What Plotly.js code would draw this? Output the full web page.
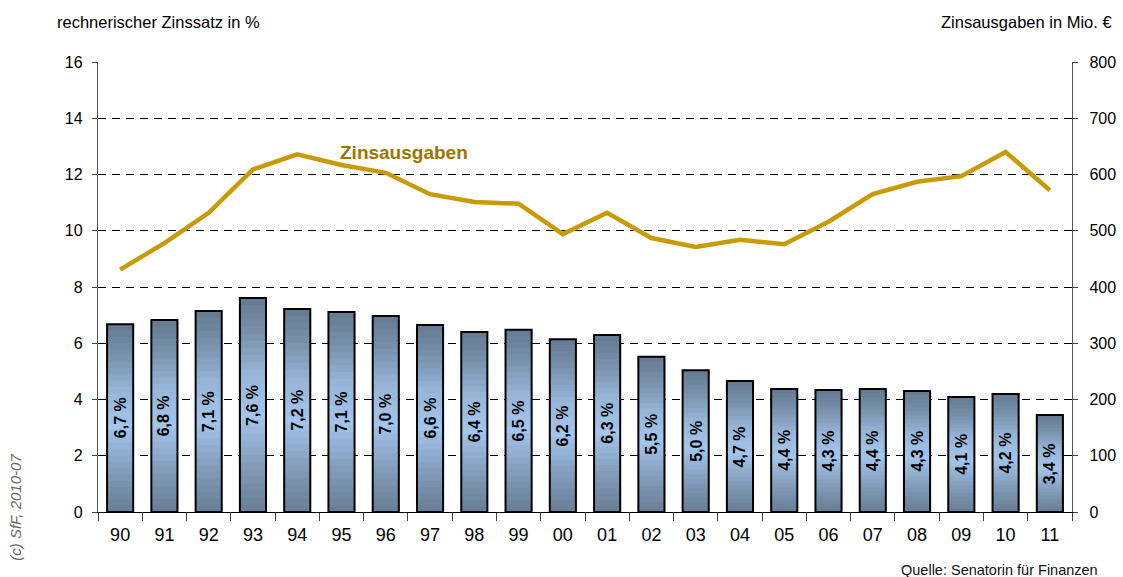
<!DOCTYPE html>
<html>
<head>
<meta charset="utf-8">
<script src="https://cdn.plot.ly/plotly-3.0.1.min.js"></script>
<style>html,body{margin:0;padding:0;background:#fff;}#chart{width:1123px;height:577px;}</style>
</head>
<body>
<div id="chart"></div>
<script>
// ---- data ----
var years = ['90','91','92','93','94','95','96','97','98','99','00','01','02','03','04','05','06','07','08','09','10','11'];
var zinssatz = [6.68,6.83,7.15,7.61,7.22,7.11,6.97,6.65,6.40,6.48,6.14,6.29,5.52,5.04,4.66,4.37,4.34,4.37,4.30,4.09,4.20,3.45];
var zinssatzLabels = ['6,7 %','6,8 %','7,1 %','7,6 %','7,2 %','7,1 %','7,0 %','6,6 %','6,4 %','6,5 %','6,2 %','6,3 %','5,5 %','5,0 %','4,7 %','4,4 %','4,3 %','4,4 %','4,3 %','4,1 %','4,2 %','3,4 %'];
var zinsausgaben = [431,478,532,609,636,617,603,565,551,548,494,532,487,471,484,476,516,565,587,597,640,572];

// ---- styling helpers ----
var FONT = 'Liberation Sans, Arial, sans-serif';
var gradStops = [ // fraction from bottom -> colour
  [0.00, [104,125,149]],
  [0.20, [128,153,182]],
  [0.45, [163,197,235]],
  [0.65, [150,180,214]],
  [0.85, [118,142,168]],
  [1.00, [101,122,146]]
];
function gradColor(f){
  for (var i=1;i<gradStops.length;i++){
    if (f <= gradStops[i][0]){
      var a=gradStops[i-1], b=gradStops[i];
      var t=(f-a[0])/(b[0]-a[0]);
      var c=a[1].map(function(v,j){return Math.round(v+(b[1][j]-v)*t);});
      return 'rgb('+c.join(',')+')';
    }
  }
  return 'rgb('+gradStops[gradStops.length-1][1].join(',')+')';
}

var BARW = 0.59;
var N = 30;
var traces = [];
// gradient bands (overlay): each band trace is the bar scaled to k/N of its height
for (var k=N;k>=1;k--){
  traces.push({
    type:'bar', x: years,
    y: zinssatz.map(function(v){return v*k/N;}),
    width: BARW,
    marker:{color: gradColor((k-0.5)/N), line:{width:0}},
    hoverinfo:'skip', showlegend:false
  });
}
// outline
traces.push({
  type:'bar', x: years, y: zinssatz, width: BARW,
  marker:{color:'rgba(0,0,0,0)', line:{color:'#000', width:2}},
  hoverinfo:'skip', showlegend:false
});
// line
traces.push({
  type:'scatter', mode:'lines', x: years, y: zinsausgaben, yaxis:'y2',
  line:{color:'#C79A06', width:4.5},
  hoverinfo:'skip', showlegend:false
});

// bar value labels, centred in each bar (x given as category index)
var barLabels = years.map(function(yr, i){
  return {xref:'x', yref:'y', x: i, y: zinssatz[i]/2, text:'<b>'+zinssatzLabels[i]+'</b>',
    textangle:-90, showarrow:false, xanchor:'center', yanchor:'middle',
    font:{size:16, color:'#000', family:FONT}};
});

var layout = {
  width:1123, height:577,
  margin:{l:98, r:51, t:62, b:65},
  paper_bgcolor:'#fff', plot_bgcolor:'#fff',
  barmode:'overlay',
  showlegend:false,
  font:{family:FONT, color:'#000'},
  xaxis:{
    type:'category', range:[-0.5, years.length-0.5], autorange:false,
    showgrid:false, zeroline:false,
    showline:true, linecolor:'#000', linewidth:1.2,
    ticks:'outside', tickson:'boundaries', ticklen:8, tickcolor:'#444', tickwidth:1,
    tickfont:{size:18, color:'#000', family:FONT}, tickangle:0,
    ticklabelstandoff:6,
    fixedrange:true
  },
  yaxis:{
    range:[0,16], dtick:2, tick0:0,
    showgrid:true, gridcolor:'#000', gridwidth:1, griddash:'8px,6px',
    zeroline:false, showline:true, linecolor:'#555', linewidth:1.2,
    ticks:'outside', ticklen:5, tickcolor:'#444',
    tickfont:{size:16, color:'#000', family:FONT},
    ticklabelstandoff:6,
    fixedrange:true
  },
  yaxis2:{
    overlaying:'y', side:'right', range:[0,800], dtick:100, tick0:0,
    showgrid:false, zeroline:false, showline:true, linecolor:'#555', linewidth:1.2,
    ticks:'outside', ticklen:5, tickcolor:'#444',
    tickfont:{size:16, color:'#000', family:FONT},
    ticklabelstandoff:8,
    fixedrange:true
  },
  annotations:[
    {xref:'paper', yref:'paper', x:-0.0441, y:1.089, xanchor:'left', yanchor:'middle',
     text:'rechnerischer Zinssatz in %', showarrow:false, font:{size:16.5, color:'#000', family:FONT}},
    {xref:'paper', yref:'paper', x:1.0432, y:1.089, xanchor:'right', yanchor:'middle',
     text:'Zinsausgaben in Mio. €', showarrow:false, font:{size:16.5, color:'#000', family:FONT}},
    {xref:'paper', yref:'paper', x:0.314, y:0.798, xanchor:'center', yanchor:'middle',
     text:'<b>Zinsausgaben</b>', showarrow:false, font:{size:19, color:'#9C7600', family:FONT}},
    {xref:'paper', yref:'paper', x:-0.085, y:0.01, xanchor:'center', yanchor:'middle',
     text:'<i>(c) SfF, 2010-07</i>', textangle:-90, showarrow:false, font:{size:15, color:'#666', family:FONT}},
    {xref:'paper', yref:'paper', x:1.029, y:-0.129, xanchor:'right', yanchor:'middle',
     text:'Quelle: Senatorin für Finanzen', showarrow:false, font:{size:14.5, color:'#111', family:FONT}}
  ].concat(barLabels)
};

Plotly.newPlot('chart', traces, layout, {displayModeBar:false, staticPlot:true});
</script>
</body>
</html>
